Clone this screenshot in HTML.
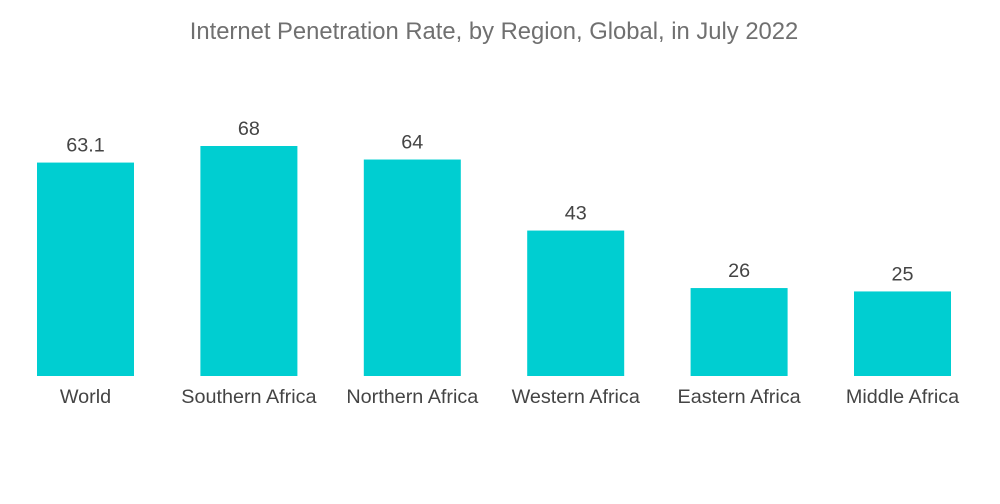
<!DOCTYPE html>
<html><head><meta charset="utf-8"><style>
body{margin:0;background:#fff;}
svg{display:block;font-family:"Liberation Sans",sans-serif;}
</style></head><body>
<svg id="chart" width="1000" height="504">
<text x="494" y="39" text-anchor="middle" font-size="23.8" fill="#707070">Internet Penetration Rate, by Region, Global, in July 2022</text>
<g id="bars"></g>
</svg>
<script>
const categories=["World","Southern Africa","Northern Africa","Western Africa","Eastern Africa","Middle Africa"];
const values=[63.1,68,64,43,26,25];
const valueLabels=["63.1","68","64","43","26","25"];
const base=376, pxPerUnit=230/68, x0=85.5, step=163.4, bw=97;
const y=v=>base-v*pxPerUnit;
const x=i=>x0+i*step;
const g=document.getElementById('bars');
const ns="http://www.w3.org/2000/svg";
categories.forEach((c,i)=>{
  const r=document.createElementNS(ns,'rect');
  r.setAttribute('x',x(i)-bw/2);r.setAttribute('y',y(values[i]));
  r.setAttribute('width',bw);r.setAttribute('height',base-y(values[i]));
  r.setAttribute('fill','#00ced1');
  
  
  g.appendChild(r);
  const t=document.createElementNS(ns,'text');
  t.setAttribute('x',x(i));t.setAttribute('y',y(values[i])-11);
  t.setAttribute('text-anchor','middle');t.setAttribute('font-size','19.8');t.setAttribute('fill','#444');
  t.textContent=valueLabels[i];
  
  
  g.appendChild(t);
  const l=document.createElementNS(ns,'text');
  l.setAttribute('x',x(i));l.setAttribute('y',403);
  l.setAttribute('text-anchor','middle');l.setAttribute('font-size','19.8');l.setAttribute('fill','#444');
  l.textContent=c;
  
  
  g.appendChild(l);
});
</script>
</body></html>
